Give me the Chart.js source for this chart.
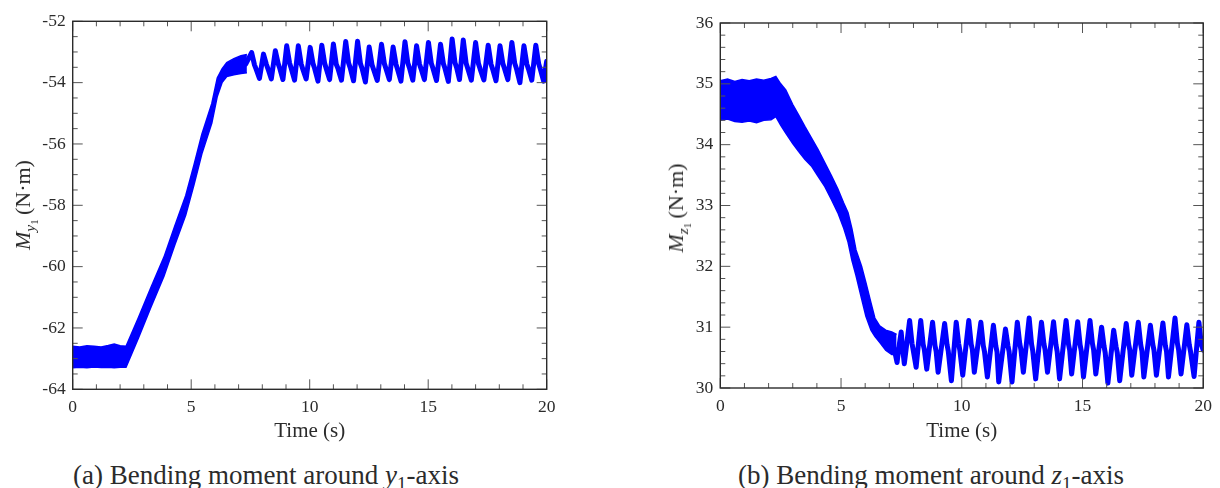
<!DOCTYPE html>
<html>
<head>
<meta charset="utf-8">
<script src="https://cdn.jsdelivr.net/npm/chart.js@4/dist/chart.umd.min.js"></script>
<style>
  html, body { margin: 0; padding: 0; background: #fff; }
  body { width: 1220px; height: 488px; position: relative; overflow: hidden;
         font-family: "Liberation Serif", "Times New Roman", serif; color: #2b2b2b; }
  canvas { position: absolute; top: 0; }
  #chart-a { left: 0; }
  #chart-b { left: 640px; }
  .ytitle { position: absolute; font-size: 22px; line-height: 1; white-space: nowrap;
            transform: translate(-50%, -50%) rotate(-90deg); }
  .caption { position: absolute; top: 462px; font-size: 27px; line-height: 27px;
             white-space: nowrap; transform: translateX(-50%); }
  sub { font-size: 0.7em; vertical-align: -0.3em; line-height: 0; }
</style>
</head>
<body>
<canvas id="chart-a" width="600" height="445"></canvas>
<canvas id="chart-b" width="580" height="445"></canvas>

<div class="ytitle" style="left:23px; top:205px;"><i>M</i><sub><i>y</i><sub>1</sub></sub>&thinsp;(N·m)</div>
<div class="ytitle" style="left:676px; top:208px;"><i>M</i><sub><i>z</i><sub>1</sub></sub>&thinsp;(N·m)</div>

<div class="caption" style="left:266px;">(a) Bending moment around <i>y</i><sub>1</sub>-axis</div>
<div class="caption" style="left:931px;">(b) Bending moment around <i>z</i><sub>1</sub>-axis</div>

<script>
const BLUE = "#0000ff";
const INK = "#2b2b2b";
const FONT = '"Liberation Serif", "Times New Roman", serif';

const xTicks = [0, 5, 10, 15, 20];

// (a) M_y1 -- thick noisy band (start + ramp), then the oscillating part
const yTicksA = [-64, -62, -60, -58, -56, -54, -52];
const bandTimeA = [0.00, 0.30, 0.60, 0.90, 1.20, 1.50, 1.75, 2.00, 2.25, 2.77, 3.30, 3.85,
  4.30, 4.77, 5.12, 5.45, 5.87, 6.10, 6.30, 6.50, 6.80, 7.10, 7.35];
const bandUpperA = [-62.60, -62.62, -62.58, -62.60, -62.62, -62.57, -62.52, -62.58, -62.60, -61.67, -60.68, -59.69,
  -58.69, -57.68, -56.68, -55.68, -54.68, -53.85, -53.55, -53.35, -53.22, -53.12, -53.08];
const bandLowerA = [-63.30, -63.28, -63.30, -63.27, -63.29, -63.28, -63.30, -63.28, -63.28, -62.33, -61.32, -60.31,
  -59.31, -58.32, -57.32, -56.32, -55.32, -54.45, -54.00, -53.80, -53.74, -53.70, -53.68];

// peak, knee, shoulder, trough for every cycle
const oscTimeA = [
  7.30, 7.55, 7.67, 7.74, 7.88,
  8.05, 8.17, 8.24, 8.38,
  8.55, 8.67, 8.74, 8.87,
  9.03, 9.15, 9.22, 9.36,
  9.52, 9.64, 9.71, 9.85,
  10.02, 10.14, 10.21, 10.35,
  10.51, 10.63, 10.70, 10.84,
  11.00, 11.12, 11.19, 11.34,
  11.52, 11.64, 11.71, 11.85,
  12.02, 12.14, 12.21, 12.35,
  12.51, 12.63, 12.70, 12.85,
  13.03, 13.15, 13.22, 13.36,
  13.52, 13.64, 13.71, 13.85,
  14.02, 14.14, 14.21, 14.35,
  14.51, 14.63, 14.70, 14.84,
  15.01, 15.13, 15.20, 15.35,
  15.52, 15.64, 15.71, 15.85,
  16.01, 16.13, 16.20, 16.32,
  16.48, 16.60, 16.67, 16.82,
  17.00, 17.12, 17.19, 17.35,
  17.53, 17.65, 17.72, 17.86,
  18.03, 18.15, 18.22, 18.36,
  18.53, 18.65, 18.72, 18.87,
  19.04, 19.16, 19.23, 19.37,
  19.54, 19.66, 19.73, 19.87,
  20.00];
const oscValueA = [
  -53.40, -53.02, -53.42, -53.56, -53.86,
  -53.07, -53.40, -53.55, -53.88,
  -52.96, -53.38, -53.54, -53.90,
  -52.80, -53.36, -53.53, -53.92,
  -52.80, -53.39, -53.56, -53.88,
  -52.85, -53.38, -53.54, -53.95,
  -52.78, -53.37, -53.55, -53.90,
  -52.74, -53.40, -53.53, -53.92,
  -52.66, -53.36, -53.52, -53.94,
  -52.65, -53.38, -53.54, -53.98,
  -52.84, -53.42, -53.58, -53.93,
  -52.75, -53.38, -53.55, -53.90,
  -52.84, -53.40, -53.57, -53.95,
  -52.67, -53.36, -53.52, -53.92,
  -52.80, -53.39, -53.55, -53.90,
  -52.69, -53.37, -53.53, -53.93,
  -52.75, -53.38, -53.54, -53.96,
  -52.58, -53.35, -53.51, -53.90,
  -52.61, -53.37, -53.54, -53.92,
  -52.69, -53.38, -53.55, -53.91,
  -52.78, -53.40, -53.56, -53.94,
  -52.80, -53.38, -53.54, -53.90,
  -52.69, -53.37, -53.53, -54.00,
  -52.80, -53.39, -53.55, -53.92,
  -52.78, -53.38, -53.56, -53.95,
  -53.30];

// (b) M_z1
const yTicksB = [30, 31, 32, 33, 34, 35, 36];
const bandTimeB = [0.00, 0.30, 0.60, 0.90, 1.20, 1.50, 1.80, 2.10, 2.30, 2.50, 2.71, 3.00, 3.24,
  3.50, 3.79, 4.05, 4.33, 4.60, 4.87, 5.10, 5.29, 5.45, 5.62, 5.85, 6.03, 6.24, 6.40,
  6.60, 6.85, 7.10, 7.30];
const bandUpperB = [35.05, 35.08, 35.04, 35.07, 35.05, 35.08, 35.06, 35.09, 35.12, 35.00, 34.90, 34.66, 34.49,
  34.30, 34.10, 33.92, 33.70, 33.49, 33.27, 33.05, 32.88, 32.62, 32.27, 32.00, 31.73, 31.40, 31.15,
  31.02, 30.95, 30.92, 30.88];
const bandLowerB = [34.40, 34.42, 34.38, 34.37, 34.39, 34.36, 34.40, 34.41, 34.46, 34.32, 34.19, 34.02, 33.89,
  33.76, 33.64, 33.48, 33.31, 33.10, 32.88, 32.64, 32.40, 32.10, 31.85, 31.47, 31.18, 30.95, 30.85,
  30.75, 30.62, 30.55, 30.55];

const oscTimeB = [
  7.15, 7.25, 7.32, 7.40, 7.49, 7.55, 7.62, 7.72,
  7.84, 7.94, 7.99, 8.11,
  8.30, 8.40, 8.45, 8.55,
  8.79, 8.89, 8.94, 9.02,
  9.29, 9.39, 9.44, 9.57,
  9.77, 9.87, 9.92, 10.04,
  10.29, 10.39, 10.44, 10.52,
  10.79, 10.89, 10.94, 11.06,
  11.31, 11.41, 11.46, 11.53,
  11.81, 11.91, 11.96, 12.08,
  12.30, 12.40, 12.45, 12.55,
  12.79, 12.89, 12.94, 13.06,
  13.30, 13.40, 13.45, 13.55,
  13.80, 13.90, 13.95, 14.05,
  14.32, 14.42, 14.47, 14.55,
  14.80, 14.90, 14.95, 15.04,
  15.31, 15.41, 15.46, 15.55,
  15.79, 15.89, 15.94, 16.05,
  16.29, 16.39, 16.44, 16.54,
  16.81, 16.91, 16.96, 17.04,
  17.31, 17.41, 17.46, 17.54,
  17.81, 17.91, 17.96, 18.06,
  18.33, 18.43, 18.48, 18.56,
  18.83, 18.93, 18.98, 19.08,
  19.32, 19.42, 19.47, 19.62,
  19.82, 19.92, 20.00];
const oscValueB = [
  30.72, 30.55, 30.42, 30.68, 30.92, 30.65, 30.40, 30.72,
  31.11, 30.73, 30.62, 30.34,
  31.11, 30.72, 30.63, 30.31,
  31.08, 30.70, 30.60, 30.26,
  31.06, 30.71, 30.61, 30.12,
  31.08, 30.73, 30.62, 30.21,
  31.11, 30.72, 30.63, 30.26,
  31.08, 30.70, 30.60, 30.18,
  31.03, 30.69, 30.59, 30.10,
  30.97, 30.70, 30.60, 30.10,
  31.08, 30.73, 30.63, 30.26,
  31.15, 30.72, 30.61, 30.15,
  31.08, 30.73, 30.63, 30.26,
  31.09, 30.71, 30.60, 30.15,
  31.11, 30.72, 30.62, 30.23,
  31.09, 30.71, 30.61, 30.18,
  31.11, 30.73, 30.63, 30.23,
  31.00, 30.69, 30.58, 30.08,
  30.95, 30.68, 30.58, 30.12,
  31.06, 30.72, 30.62, 30.21,
  31.08, 30.71, 30.61, 30.18,
  31.03, 30.72, 30.62, 30.21,
  31.07, 30.70, 30.60, 30.18,
  31.15, 30.73, 30.63, 30.23,
  31.04, 30.71, 30.61, 30.19,
  31.08, 30.72, 30.62];

const pts = (xs, ys) => xs.map((x, i) => ({ x, y: ys[i] }));

function isOn(v, step) {
  return Math.abs(v / step - Math.round(v / step)) < 1e-6;
}

// box around the plot with inward major/minor ticks on all four sides
const frameTicks = {
  id: "frameTicks",
  afterDraw(chart, args, o) {
    const { ctx, chartArea: a } = chart;
    const x = chart.scales.x;
    const y = chart.scales.y;
    ctx.save();
    ctx.strokeStyle = "#555";
    ctx.lineWidth = 1;
    ctx.beginPath();
    const nx = Math.round((x.max - x.min) / o.xMinor);
    for (let i = 0; i <= nx; i++) {
      const v = x.min + i * o.xMinor;
      const len = isOn(v, o.xMajor) ? 10 : 5;
      const px = x.getPixelForValue(v);
      ctx.moveTo(px, a.bottom);
      ctx.lineTo(px, a.bottom - len);
      ctx.moveTo(px, a.top);
      ctx.lineTo(px, a.top + len);
    }
    const ny = Math.round((y.max - y.min) / o.yMinor);
    for (let i = 0; i <= ny; i++) {
      const v = y.min + i * o.yMinor;
      const len = isOn(v - y.min, o.yMajor) ? 10 : 5;
      const py = y.getPixelForValue(v);
      ctx.moveTo(a.left, py);
      ctx.lineTo(a.left + len, py);
      ctx.moveTo(a.right, py);
      ctx.lineTo(a.right - len, py);
    }
    ctx.stroke();
    ctx.strokeStyle = INK;
    ctx.lineWidth = 1.4;
    ctx.strokeRect(a.left, a.top, a.right - a.left, a.bottom - a.top);
    ctx.restore();
  }
};

function panel(canvas, p) {
  return new Chart(canvas, {
    type: "line",
    data: {
      datasets: [
        { data: pts(p.bandTime, p.bandUpper), borderColor: BLUE, borderWidth: 1.5,
          pointRadius: 0, fill: false, tension: 0 },
        { data: pts(p.bandTime, p.bandLower), borderColor: BLUE, borderWidth: 1.5,
          pointRadius: 0, fill: "-1", backgroundColor: BLUE, tension: 0 },
        { data: pts(p.oscTime, p.oscValue), borderColor: BLUE, borderWidth: 5,
          pointRadius: 0, fill: false, tension: 0,
          borderJoinStyle: "round", borderCapStyle: "round" }
      ]
    },
    options: {
      responsive: false,
      animation: false,
      devicePixelRatio: 1,
      events: [],
      layout: { padding: { top: p.top, right: p.right, left: 0, bottom: 0 } },
      plugins: {
        legend: { display: false },
        tooltip: { enabled: false },
        frameTicks: { xMinor: 1, xMajor: 5, yMinor: p.yMinor, yMajor: p.yMajor }
      },
      scales: {
        x: {
          type: "linear",
          min: 0,
          max: 20,
          grid: { display: false, drawTicks: false },
          border: { display: false },
          afterBuildTicks: (s) => { s.ticks = xTicks.map((v) => ({ value: v })); },
          afterFit: (s) => { s.height = p.xHeight; },
          ticks: { color: INK, font: { family: FONT, size: 17.5 }, padding: 8,
                   maxRotation: 0, autoSkip: false },
          title: { display: true, text: "Time (s)", color: INK,
                   font: { family: FONT, size: 21 }, padding: { top: 0, bottom: 1.4 } }
        },
        y: {
          type: "linear",
          min: p.yTicks[0],
          max: p.yTicks[p.yTicks.length - 1],
          grid: { display: false, drawTicks: false },
          border: { display: false },
          afterBuildTicks: (s) => { s.ticks = p.yTicks.map((v) => ({ value: v })); },
          afterFit: (s) => { s.width = p.yWidth; },
          ticks: { color: INK, font: { family: FONT, size: 17.5 }, padding: 7, autoSkip: false }
        }
      }
    },
    plugins: [frameTicks]
  });
}

panel(document.getElementById("chart-a"), {
  bandTime: bandTimeA, bandUpper: bandUpperA, bandLower: bandLowerA,
  oscTime: oscTimeA, oscValue: oscValueA, yTicks: yTicksA,
  yMajor: 2, yMinor: 0.5,
  top: 21.3, right: 53.3, yWidth: 72.7, xHeight: 55.7
});

panel(document.getElementById("chart-b"), {
  bandTime: bandTimeB, bandUpper: bandUpperB, bandLower: bandLowerB,
  oscTime: oscTimeB, oscValue: oscValueB, yTicks: yTicksB,
  yMajor: 1, yMinor: 0.2,
  top: 23, right: 9, yWidth: 80.3, xHeight: 57
});
</script>
</body>
</html>
